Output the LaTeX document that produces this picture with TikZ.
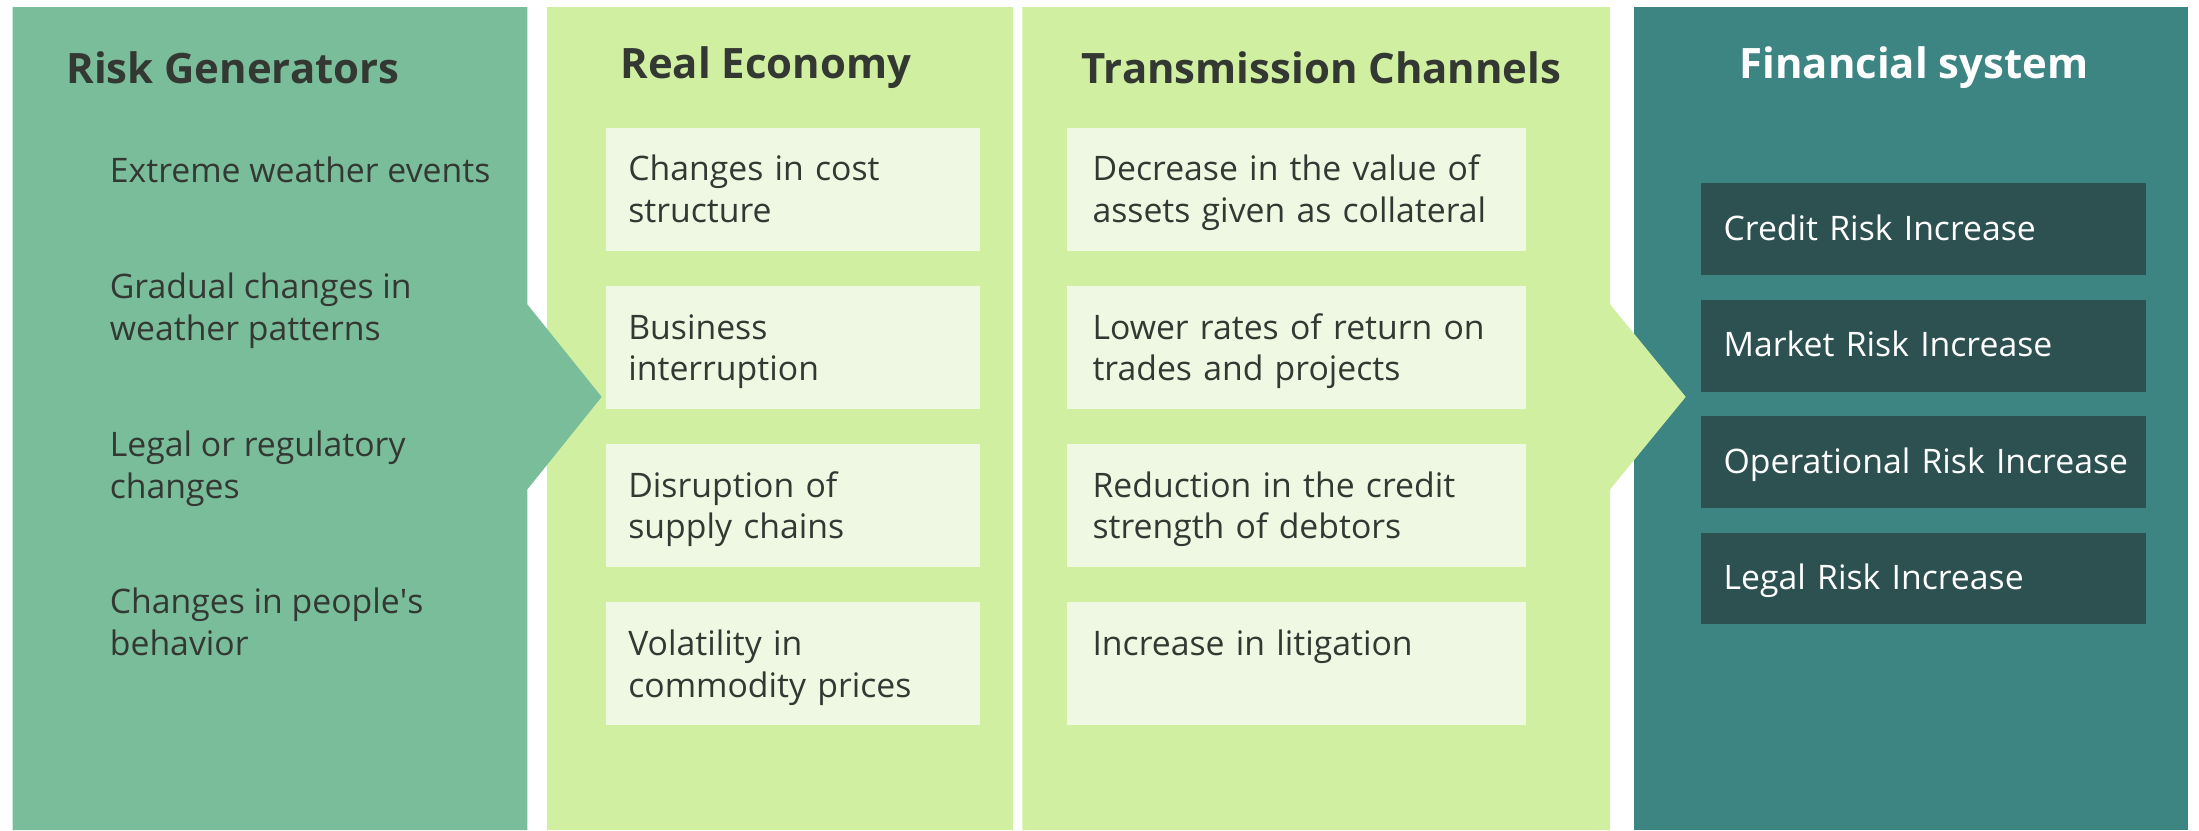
\documentclass[tikz,border=0pt]{standalone}
\usepackage{fontspec}
\setmainfont{Open Sans}

\definecolor{genfill}{HTML}{7ABD9A}
\definecolor{ecofill}{HTML}{D0EFA0}
\definecolor{boxfill}{HTML}{EFF8E2}
\definecolor{finfill}{HTML}{3D8583}
\definecolor{finbox}{HTML}{2D5151}
\definecolor{darktext}{HTML}{333833}

\newcommand{\itemfont}{\fontsize{13.7}{17}\selectfont}

\tikzset{
    panel title/.style={anchor=west, inner sep=0pt, text=darktext,
        font=\bfseries\fontsize{17}{20}\selectfont},
    gen item/.style={anchor=west, inner sep=0pt, align=left, text=darktext, font=\itemfont,
        execute at begin node=\strut, execute at end node=\strut},
    eco box/.style={rectangle, fill=boxfill, minimum width=5.34cm, minimum height=1.76cm,
        inner xsep=0.32cm, inner ysep=0pt, text width=4.70cm, align=left,
        text=darktext, font=\itemfont,
        execute at begin node={\rule{0pt}{15.3pt}}, execute at end node=\strut},
    chan box/.style={eco box, minimum width=6.54cm, inner xsep=0.36cm, text width=5.82cm},
    fin box/.style={rectangle, fill=finbox, minimum width=6.34cm, minimum height=1.31cm,
        inner xsep=0.32cm, inner ysep=0pt, text width=5.70cm, align=left,
        text=white, font=\itemfont,
        execute at begin node={\rule{0pt}{14.2pt}}, execute at end node=\strut}
}

\begin{document}
\begin{tikzpicture}[x=0.02cm, y=-0.02cm]
    \useasboundingbox (0,0) rectangle (1568,592);

    % Pannelli di sfondo
    \fill[ecofill] (390,5) rectangle (722,592);
    \fill[finfill] (1165,5) rectangle (1560,592);

    % Risk Generators, con freccia verso destra
    \fill[genfill] (9,5) -- (376,5) -- (376,217) -- (429,283) -- (376,349)
        -- (376,592) -- (9,592) -- cycle;

    % Transmission Channels, con freccia verso destra
    \fill[ecofill] (729,5) -- (1148,5) -- (1148,217) -- (1202,283) -- (1148,349)
        -- (1148,592) -- (729,592) -- cycle;

    % Titoli
    \node[panel title] (gen title) at (47,48.5) {Risk Generators};
    \node[panel title] (eco title) at (442,48.5) {Real Economy};
    \node[panel title] (chan title) at (771,48.5) {Transmission Channels};
    \node[panel title, text=white] (fin title) at (1240,48.5) {Financial system};

    % Generatori di rischio
    \node[gen item] (gen1) at (78,124.5) {Extreme weather events};
    \node[gen item] (gen2) at (78,223) {Gradual changes in\\weather patterns};
    \node[gen item] (gen3) at (78,336) {Legal or regulatory\\changes};
    \node[gen item] (gen4) at (78,447.5) {Changes in people\textquotesingle s\\behavior};

    % Economia reale
    \foreach \t [count=\i] in {{Changes in cost\\structure}, {Business\\interruption},
        {Disruption of\\supply chains}, {Volatility in\\commodity prices}} {
        \node[eco box] (eco\i) at (565.5, {135+112.7*(\i-1)}) {\t};
    }

    % Canali di trasmissione
    \foreach \t [count=\i] in {{Decrease in the value of\\assets given as collateral},
        {Lower rates of return on\\trades and projects},
        {Reduction in the credit\\strength of debtors}, {Increase in litigation\\\strut}} {
        \node[chan box] (chan\i) at (924.5, {135+112.7*(\i-1)}) {\t};
    }

    % Sistema finanziario
    \foreach \t [count=\i] in {Credit, Market, Operational, Legal} {
        \node[fin box] (fin\i) at (1371.5, {163.5+83*(\i-1)}) {\mbox{\t{} Risk Increase}};
    }

\end{tikzpicture}
\end{document}
